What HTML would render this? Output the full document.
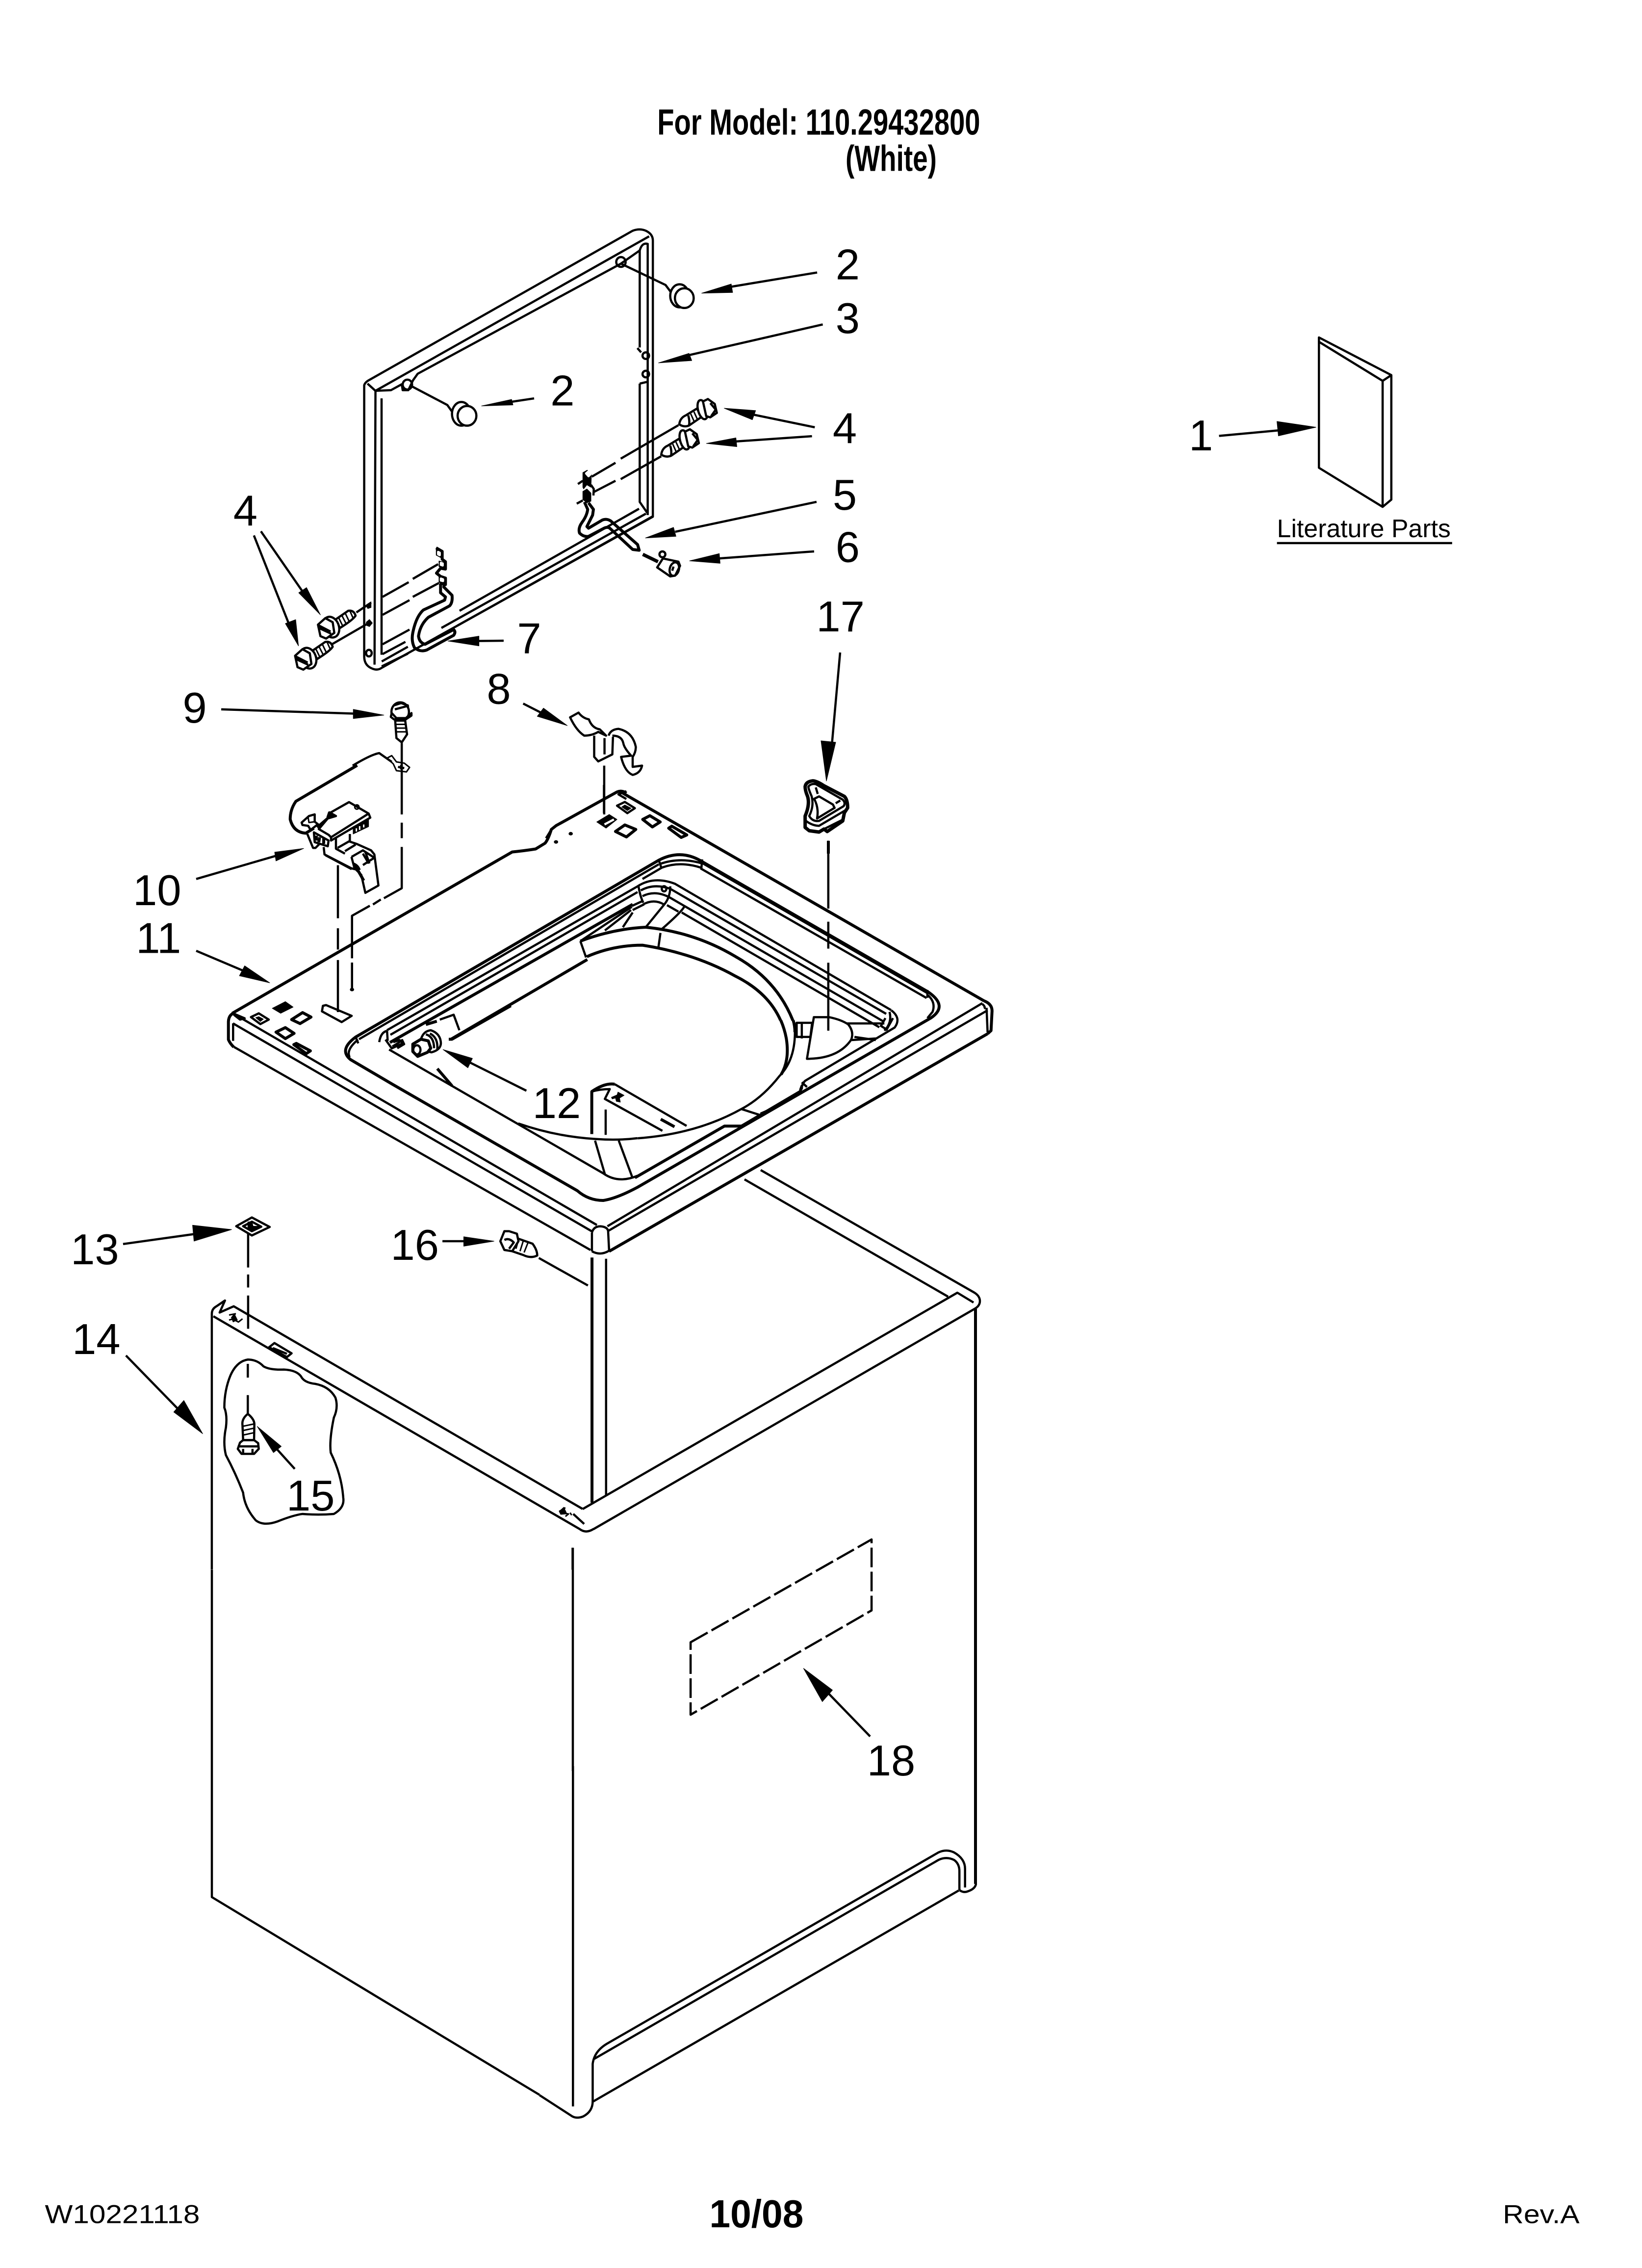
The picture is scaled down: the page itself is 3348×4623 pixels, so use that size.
<!DOCTYPE html>
<html><head><meta charset="utf-8"><style>
html,body{margin:0;padding:0;background:#fff}
svg{display:block}
path,line,polyline,polygon,ellipse,circle{vector-effect:non-scaling-stroke}
.f{fill:#000;stroke:#000;stroke-width:1}
.w{fill:#fff}
.t{stroke-width:3}
.b{stroke-width:6}
.x{stroke-width:7}
text{font-family:"Liberation Sans",sans-serif;fill:#000;stroke:none}
</style></head><body>
<svg xmlns="http://www.w3.org/2000/svg" width="3348" height="4623" viewBox="0 0 3348 4623" fill="none" stroke="#000" stroke-width="4.5" stroke-linejoin="round">

<!-- DOOR FRAME (zoom1 coords) -->
<g transform="translate(400,400) scale(.957,.67)">
<path d="M358 575Q360 565 370 558L930 105Q945 97 958 105Q973 115 973 135L973 975L395 1435Q385 1445 372 1435Q358 1425 358 1400Z"/>
<path d="M365 570L382 592L380 1425M382 592L965 122"/>
<path d="M382 592L415 590L438 572L440 590L452 590L462 560L472 540L905 205L945 165Q950 140 962 145L962 970"/>
<path d="M395 615L395 1395M945 165L945 460M940 462L948 475M945 570L945 930L962 965M945 570L960 565"/>
<ellipse cx="905" cy="200" rx="10" ry="15"/><ellipse cx="450" cy="573" rx="10" ry="15"/>
<ellipse cx="958" cy="485" rx="7" ry="10"/><ellipse cx="958" cy="541" rx="7" ry="10"/>
<ellipse cx="368" cy="1390" rx="6" ry="10"/>
<!-- buttons -->
<path d="M905 205L1000 270L1020 308L1035 270"/>
<ellipse class="w" cx="1030" cy="303" rx="20" ry="35"/><ellipse class="w" cx="1040" cy="310" rx="20" ry="30"/>
<path d="M455 575L535 635L555 675L570 632"/>
<ellipse class="w" cx="565" cy="662" rx="20" ry="36"/><ellipse class="w" cx="577" cy="668" rx="20" ry="30"/>
<!-- arrows -->
<path d="M1323 232L1120 280"/><path class="f" d="M1077 295L1140 267L1143 293Z"/>
<path d="M1335 390L1030 490"/><path class="f" d="M985 507L1050 478L1056 500Z"/>
<path d="M720 615L650 630"/><path class="f" d="M608 638L672 618L675 635Z"/>
<path d="M1318 703L1165 658"/><path class="f" d="M1125 645L1192 652L1185 680Z"/>
<path d="M1312 730L1130 748"/><path class="f" d="M1087 752L1150 735L1152 762Z"/>
<path d="M123 1032L200 1310"/><path class="f" d="M218 1368L190 1300L212 1288Z"/>
</g>
<!-- door rails -->
<path d="M937 1245L1303 1037M900 1280L1317 1047M933 1275L1330 1053"/>

<!-- wire 7, left bolts (3x crop B) -->
<g transform="translate(600,1100) scale(.3333)">
<path d="M540 350L700 260M725 240L880 150M540 460L705 370M725 350L885 265"/>
<path d="M540 640L705 550M540 700L680 625M535 745L695 655M535 775L695 697"/>
<path class="b" d="M868 50L905 72L905 120L925 135L925 180L895 175L870 205L895 225L925 235L925 275L890 265"/>
<path class="f" d="M868 50L905 72L905 115L868 95Z"/><path class="w" stroke="#fff" d="M880 75L890 80L890 95L880 90Z"/>
<path class="f" d="M885 130L925 140L925 180L885 165Z"/><path stroke="#fff" class="w" d="M897 142L908 146L908 158L897 154Z"/>
<path class="f" d="M885 225L925 235L925 270L885 262Z"/><path stroke="#fff" class="w" d="M897 238L910 243L910 253L897 250Z"/>
<path class="b" d="M895 270L895 325L925 350L920 370L790 430Q745 470 725 570Q715 620 735 660Q770 690 810 675L975 585Q990 565 975 550L800 640Q765 630 760 590Q770 520 820 475L950 405Q970 385 965 340L915 290L918 265"/>
<path d="M380 445L470 385"/><path class="f" d="M440 405L470 380L470 415L450 422Z"/>
<path d="M230 640L455 510"/><path class="f" d="M440 505L460 488L478 510L460 532L443 525Z"/>
<g>
<path class="w" d="M250 490L330 435Q365 430 375 465Q360 490 280 540Z"/>
<path class="t" d="M272 478L295 525M292 465L315 510M312 450L335 498M340 435L360 480"/>
<ellipse class="w" cx="225" cy="535" rx="48" ry="65" transform="rotate(-20 225 535)"/>
<path class="w" d="M145 520L190 480L235 505L245 570L195 605L160 590Z"/>
<path d="M150 540L225 575M145 522L222 562"/>
</g>
<g transform="translate(-140,190)">
<path class="w" d="M250 490L330 435Q365 430 375 465Q360 490 280 540Z"/>
<path class="t" d="M272 478L295 525M292 465L315 510M312 450L335 498M340 435L360 480"/>
<ellipse class="w" cx="225" cy="535" rx="48" ry="65" transform="rotate(-20 225 535)"/>
<path class="w" d="M145 520L190 480L235 505L245 570L195 605L160 590Z"/>
<path d="M150 540L225 575M145 522L222 562"/>
</g>
<path d="M-204 -51L70 345"/><path class="f" d="M160 460L75 293L27 325Z"/>
<path d="M1281 618L1100 620"/><path class="f" d="M940 620L1130 590L1130 650Z"/>
</g>

<!-- wire 5, right bolts, nut (3x crop D) -->
<g transform="translate(1100,780) scale(.3333)">
<path d="M320 575L465 490M497 465L850 260M330 670L465 600M497 590L745 450"/>
<path d="M235 620L265 600M228 740L265 720"/>
<path class="f" d="M265 550L292 535L318 560L315 640L290 625L270 650L265 640ZM265 665L290 650L315 675L315 725L290 735L265 715Z"/>
<path class="w" stroke="#fff" d="M285 555L297 545L312 560L300 572Z"/>
<path d="M315 625L332 650L330 690"/>
<path class="b" d="M300 735L330 775L325 810L290 880L300 890L385 840Q410 830 435 845L600 990L610 1025L570 1020L430 890Q415 880 395 890L300 940Q270 945 245 920Q235 890 260 855Q290 815 295 775L275 730"/>
<g>
<path class="w" d="M855 255Q860 215 895 200L985 145L1020 190L915 262Q885 275 855 255Z"/>
<path d="M910 200Q920 235 915 262"/>
<path class="t" d="M925 190L945 235M945 178L965 222M965 165L985 210"/>
<ellipse class="w" cx="998" cy="165" rx="28" ry="60" transform="rotate(-15 998 165)"/>
<path class="w" d="M1000 115L1030 100L1072 130L1085 185L1045 212L1020 205Z"/>
<path d="M1045 125L1078 165L1050 205"/>
</g>
<g transform="translate(-110,185)">
<path class="w" d="M855 255Q860 215 895 200L985 145L1020 190L915 262Q885 275 855 255Z"/>
<path d="M910 200Q920 235 915 262"/>
<path class="t" d="M925 190L945 235M945 178L965 222M965 165L985 210"/>
<ellipse class="w" cx="998" cy="165" rx="28" ry="60" transform="rotate(-15 998 165)"/>
<path class="w" d="M1000 115L1030 100L1072 130L1085 185L1045 212L1020 205Z"/>
<path d="M1045 125L1078 165L1050 205"/>
</g>
<path class="x" d="M632 1050L725 1095"/>
<circle class="w" cx="752" cy="1050" r="18"/>
<path class="w" d="M720 1130L755 1075L850 1095L860 1120L830 1180L800 1185Z"/>
<ellipse cx="825" cy="1140" rx="28" ry="42" transform="rotate(15 825 1140)"/>
<path d="M820 1125L812 1150"/>
<path d="M1695 729L830 912"/><path class="f" d="M648 950L820 885L835 940Z"/>
<path d="M1680 1032L1100 1075"/><path class="f" d="M918 1090L1100 1045L1105 1105Z"/>
</g>

<!-- TOP LEFT PART (zoom2 coords) -->
<g transform="translate(400,1400) scale(.638,.51)">
<path class="b" d="M115 1305L1010 660Q1050 655 1085 648L1115 625Q1125 610 1135 570L1150 555L1345 420Q1360 412 1375 425"/>
<path d="M1118 605Q1128 585 1135 570"/>
<path d="M118 1305L155 1325L140 1330L120 1310"/>
<path class="b" d="M118 1305Q102 1315 103 1345L103 1410Q108 1425 120 1440"/>
<path d="M118 1345L118 1415"/>
<!-- slots -->
<path d="M175 1320L200 1305L232 1330L205 1348Z"/><path class="f" d="M190 1322L200 1318L215 1328L205 1338Z"/>
<path class="b" d="M305 1330L340 1302L367 1320L332 1346Z"/>
<path class="b" d="M255 1380L285 1362L313 1385L285 1406Z"/>
<path class="b" d="M312 1430L320 1425L365 1455L352 1466Z"/>
<path d="M405 1275L415 1272L497 1315L465 1340L402 1297Z"/>
<path class="f" d="M243 1285L285 1258L310 1280L270 1305Z"/>
<path d="M1345 475L1370 460L1402 485L1378 505Z"/><path class="f" d="M1360 480L1370 472L1390 485L1378 495Z"/>
<path class="b" d="M1427 530L1450 515L1483 540L1458 560Z"/>
<path class="b" d="M1340 578L1370 552L1405 570L1375 600Z"/>
<path class="b" d="M1510 565L1520 557L1568 592L1550 602Z"/>
<path class="f" d="M1280 540L1320 510L1345 530L1310 565Z"/><path d="M1305 550L1335 530" stroke="#fff"/>
<circle class="f" cx="1150" cy="620" r="6"/><circle class="f" cx="1197" cy="587" r="6"/><circle class="f" cx="498" cy="1210" r="6"/>
<!-- dashed -->
<path d="M453 713L453 925M453 965L453 1050M453 1092L453 1300"/>
<path d="M657 225L657 510M657 543L657 605M657 640L657 805L600 845M590 850L565 870M555 875L498 915L498 1085M498 1102L498 1210"/>
<path d="M1304 315L1304 510"/>
<!-- wire 10 top -->
<path d="M625 300L585 265Q560 270 500 315"/>
<path class="t" d="M610 285L625 275L640 300L665 305L682 322L672 340L640 335L630 308Z"/>
<path d="M645 320L665 325M655 312L655 330"/>
<!-- screw 9 -->
<ellipse class="w" cx="652" cy="100" rx="28" ry="38"/>
<path d="M630 75L655 65L678 75M635 90L680 75"/>
<path class="w" d="M622 120L632 130L670 130L688 115L688 105L670 125L640 125L625 105Z"/>
<path class="w" d="M636 135L668 135L674 190L657 222L640 205Z"/>
<path class="t" d="M640 150L670 150M640 165L672 165M640 180L672 180"/>
<!-- clip 8 -->
<path d="M1195 122L1222 103Q1235 125 1255 130Q1265 165 1290 170L1310 195L1285 180Q1265 195 1240 195Q1215 175 1195 122Z"/>
<path d="M1272 195L1272 280L1285 298L1330 270L1332 200"/>
<path d="M1305 205L1305 270M1318 195Q1325 170 1350 168Q1395 180 1405 240Q1405 262 1395 280L1395 320L1425 315Q1420 345 1395 352Q1370 340 1358 280L1390 275Q1368 245 1365 225Q1360 195 1330 195"/>
<!-- arrows -->
<path d="M80 90L530 108"/><path class="f" d="M600 113L502 90L502 127Z"/>
<path d="M1045 67L1125 118"/><path class="f" d="M1186 155L1110 85L1090 118Z"/>
<path d="M0 768L270 670"/>
<path d="M0 1055L170 1145"/><path class="f" d="M235 1183L155 1115L138 1155Z"/>
<!-- well left -->
<path d="M815 1408L1250 1090" class="b"/>
<path d="M510 1400L518 1425"/>
<path d="M585 1420Q590 1380 610 1375M610 1375L612 1415M605 1410L625 1445L660 1425L650 1412L630 1420"/>
</g>

<!-- switch 10 (3x crop E) -->
<g transform="translate(560,1560) scale(.3333)">
<path class="b" d="M505 0L130 220Q95 270 95 330Q115 410 190 415L240 385"/>
<path class="w" d="M165 350L210 310L245 300L245 345L265 360L220 395L205 370L170 365Z"/>
<path class="t" d="M205 320L210 350L245 345"/>
<path class="b" d="M260 380L330 320L375 310L335 290L325 320"/>
<path class="w" d="M270 390L330 425L345 440L575 295L455 225L340 290L375 310L325 325Z"/>
<path class="f" d="M335 295L375 310L340 322Z"/>
<path d="M345 440L345 460L585 320L575 295"/>
<circle class="t" cx="503" cy="255" r="13"/>
<path class="w" d="M240 410L330 460L325 495L245 470Z"/>
<path class="b" d="M255 430L255 460M275 440L270 470M300 445L300 480"/>
<path class="f" d="M480 375L575 330L575 375L480 420Z"/>
<path stroke="#fff" class="t" d="M500 385L500 405M520 372L520 395M545 362L545 380"/>
<path d="M200 420L235 505L250 505L275 480"/>
<path d="M300 500L305 545L470 630L490 635L470 560M305 545L470 630"/>
<path class="t" d="M310 552L470 637"/>
<path d="M375 440L375 510L430 540M460 420L460 465"/>
<path d="M385 505L455 465L500 480L590 520L610 545L635 735L555 780L530 670L490 630"/>
<path d="M430 525L495 485M470 560L540 520L610 565M540 610L610 565M480 600Q510 610 520 640M540 540L575 600M555 530L580 600"/>
<path class="b" d="M490 610Q520 660 545 705"/>
<path class="f" d="M178 508L0 531L8 585Z"/>
</g>

<!-- TOP RIGHT PART (zoom3 coords) -->
<g transform="translate(1000,1600) scale(.7015,.638)">
<path class="b" d="M375 20L1435 690"/>
<path d="M395 20L372 30L395 45"/>
<path class="b" d="M1435 690Q1458 700 1458 722L1455 785L1445 795"/>
<path d="M1442 712L1445 790"/>
<path d="M1430 700Q1440 710 1435 715"/>
<path d="M1270 655L1270 680"/>
<path d="M1272 672Q1295 695 1285 725L1270 745"/>
<path d="M1165 720Q1195 745 1175 775L915 945Q905 955 905 970L895 985"/>
<path d="M1160 725Q1168 760 1145 785M1148 745L1135 770L1150 780M1170 745L1150 785"/>
<path class="b" d="M880 752Q885 770 885 790"/>
<path class="b" d="M844 752Q855 780 860 810Q870 880 845 925"/>
<path d="M885 790Q885 880 840 930Q790 1000 730 1035Q600 1115 428 1129"/>
<path d="M728 1035L785 1055M785 1050Q850 1020 895 985M905 950L920 965M900 975L905 960"/>
<path class="w" d="M940 742L985 742Q1020 750 1040 765Q1058 790 1048 815Q1010 875 920 875Z"/>
<path d="M1035 762L1145 762M1058 805L1120 815M1050 815L1120 810"/>
<path d="M890 760L935 760L930 805L890 805ZM905 760L905 810"/>
<path d="M982 178L982 395M982 437L982 523M982 568L982 785"/>
<path d="M330 0L330 90"/>
<path class="b" d="M495 1068L535 1092"/>
<path class="b" d="M420 1255L680 1090L730 1090"/>
<path d="M905 975L720 1095"/>
<path d="M1430 697L340 1410M1445 720L342 1425"/>
<path class="b" d="M1445 795L345 1490"/>
<path d="M295 1490Q320 1505 345 1488M295 1430Q300 1410 320 1410Q340 1412 342 1425M295 1430L295 1490M342 1425L345 1490"/>
</g>

<!-- well top (3x crop C) -->
<g transform="translate(1150,1730) scale(.3333)">
<path d="M-1254 1165L580 95M-1083 1110L450 230M-1062 1138L450 265"/>
<path class="b" d="M-1065 1185L420 340"/>
<path d="M580 70L595 115M845 65L840 125"/>
<path d="M590 92Q710 50 845 90M600 115Q710 75 835 115"/>
<path d="M600 115L480 185"/>
<path d="M850 90L2223 883M835 120L2218 913"/>
<path d="M450 230Q550 165 680 215L2001 987M470 255Q550 210 650 245L1971 1010M480 290Q560 250 650 300L1950 1054M485 340Q550 305 610 340"/>
<path d="M455 225Q465 290 485 330M415 350L480 320M420 375L490 340"/>
<path d="M650 230Q650 300 610 345L500 480M735 355Q720 385 600 490"/>
<path d="M630 345L700 385M720 390L1929 1092"/>
<ellipse cx="612" cy="245" rx="14" ry="16"/>
<path d="M415 355L100 565M410 375L250 500M420 390L360 480"/>
<path class="b" d="M100 565Q300 490 500 480Q800 510 1050 660Q1300 800 1400 1050"/>
<path class="b" d="M140 660Q300 590 480 590Q800 640 1050 780Q1250 880 1325 1050"/>
<path d="M100 565L135 665M590 515L578 600"/>
</g>

<!-- RIM + TOP EDGES (real coords) -->
<path class="b" d="M725 2114L1344 1753Q1389 1730 1431 1756L1891 2021Q1935 2050 1898 2075L1300 2420Q1257 2443 1230 2447Q1200 2447 1177 2427L800 2210L715 2160Q690 2140 725 2114Z"/>
<path d="M730 2119Q705 2140 713 2155"/>
<path d="M477 2134L1204 2548M475 2086L1207 2510M486 2072L1217 2497"/>

<!-- lower-left well, knob 12 (3x crop A) -->
<g transform="translate(800,2050) scale(.3333)">
<path d="M-20 268L1290 1025Q1380 1090 1500 1040"/>
<path d="M770 720Q1000 800 1240 815Q1380 825 1500 810"/>
<path class="b" d="M725 0L365 205L345 205"/>
<path d="M410 150L375 55L290 85"/>
<path class="b" d="M205 115L272 95"/>
<path class="b" d="M275 385L365 490"/>
<path class="w" d="M235 150Q295 170 297 230Q295 270 240 285L215 280L175 205Q190 155 235 150Z"/>
<path d="M205 175Q255 190 255 260M230 170Q280 195 275 265"/>
<path class="w b" d="M175 205L125 235L125 280L155 310L215 285L235 260L220 215Z"/>
<ellipse cx="150" cy="270" rx="22" ry="28"/>
<path d="M0 250L40 225L60 210L72 235L30 260"/>
<path d="M820 520L470 345"/><path class="f" d="M310 268L490 322L462 380Z"/>
<path class="b" d="M1220 785L1220 525Q1300 470 1360 480"/>
<path d="M1360 480L1800 735M1220 525Q1270 510 1330 510L1300 570L1652 765"/>
<path d="M1305 635L1305 790M1240 825L1300 1030M1385 825L1470 1055"/>
<path class="f" d="M1340 560L1375 545L1380 528L1418 548L1390 565L1395 590L1370 585L1365 565L1345 570Z"/>
</g>

<!-- knob 17 (zoom7 coords) -->
<g transform="translate(1580,1540) scale(.3333)">
<path class="x" d="M185 190Q190 160 230 155Q255 155 300 185L425 250Q445 270 445 320L425 350L415 400L320 465L300 450L270 468L210 460L185 440L185 370Q215 300 200 250Q185 215 185 190Z"/>
<path d="M205 190Q220 170 250 175L415 270Q435 290 420 310L270 400Q230 405 210 370Q240 310 225 250Q205 205 205 190Z"/>
<path d="M190 400Q230 430 270 430L440 330M250 195L262 235M240 265L270 250L355 300L365 320L258 385Q270 320 240 265ZM372 292L400 275M300 450L420 390"/>
<path class="b" d="M327 522L327 600"/>
</g>
<path d="M1713 1330L1696 1520"/><path class="f" d="M1685 1592L1674 1510L1704 1513Z"/>

<!-- CABINET (zoom4 coords) -->
<g transform="translate(400,2400) scale(.638,.51)">
<path d="M50 1568L50 545Q50 525 65 515L92 492L75 540L120 515L1235 1325"/>
<path d="M55 555L1225 1405Q1245 1425 1270 1405"/>
<path d="M1205 1345L1240 1385"/>
<path class="t" d="M105 550L125 545L115 565L135 578L148 565M120 565L105 570"/>
<path class="t" d="M1160 1335L1180 1320M1165 1340L1190 1345L1180 1355M1195 1340L1200 1350"/>
<path class="f" d="M1160 1335L1175 1318L1185 1345L1165 1347Z"/>
<path class="f" d="M112 560L122 545L132 570L118 578Z"/>
<path d="M232 680L250 662L305 703L290 718ZM245 682L290 705M235 680L290 718"/>
<path class="b" d="M1265 320L1265 1300"/><path d="M1310 325L1310 1270"/>
<path d="M1203 1480L1203 1568"/>
<path d="M178 160L235 198L178 232L128 195Z"/><path d="M178 177L208 197L178 215L150 195Z"/>
<path class="f" d="M165 178L178 176L182 195L205 195L180 212L165 200Z"/>
<path d="M166 225L166 360M166 388L166 440M166 472L166 605M165 745L165 800M165 870L165 950"/>
<path d="M165 728Q130 735 110 790Q90 850 90 920Q100 950 95 1000Q85 1060 95 1110Q125 1180 150 1260Q155 1320 190 1370Q215 1395 260 1375Q310 1350 340 1345Q390 1350 440 1345Q475 1320 470 1280Q465 1190 430 1100Q425 1050 440 960Q455 920 445 880Q425 835 380 825Q345 820 335 795Q320 770 280 768Q235 770 215 755Q195 728 165 728Z"/>
<path d="M165 945Q145 965 148 990L150 1050L185 1050L186 985Q185 965 165 945Z"/>
<path class="t" d="M148 995L186 985M148 1012L186 1002M149 1030L186 1020"/>
<path d="M140 1060L150 1050L185 1050L198 1062L200 1085L185 1105L145 1105L133 1085Z"/><path d="M133 1075L200 1075M150 1085L150 1105M180 1085L180 1105"/>
<path d="M315 1165L250 1075"/><path class="f" d="M195 995L272 1075L247 1100Z"/>
<path d="M1000 215L1025 225L1030 255L1010 295L985 290L972 255L985 215Z"/><path d="M985 250Q1000 240 1015 260L1000 285"/>
<path d="M1030 245L1075 265Q1090 290 1090 312Q1070 325 1045 310L1010 295"/>
<path class="t" d="M1030 250L1022 285M1045 255L1035 295M1060 262L1048 300"/>
<path d="M1095 322L1252 432"/>
<path d="M787 255L870 255"/><path class="f" d="M952 255L855 237L855 275Z"/>
</g>
<path d="M1188 3076L1952 2635L1985 2655"/>
<path d="M1210 3117L1987 2668Q1998 2662 1998 2652Q1998 2642 1987 2635L1551 2385"/>
<path d="M1518 2404L1933 2643"/>
<path class="b" d="M1989 2668L1989 3840"/>

<!-- kick (zoom5 coords) -->
<g transform="translate(1100,3600) scale(.638,.51)">
<path d="M107 0L107 1360"/>
<path d="M0 1315L105 1400Q120 1410 140 1400Q170 1380 170 1340L170 1190Q175 1140 215 1110L1275 345Q1300 330 1325 345Q1360 370 1360 410L1360 485"/>
<path d="M175 1170L1275 375Q1300 360 1325 375Q1342 390 1342 420L1342 495"/>
<path d="M172 1340L1340 497"/>
<path d="M1342 495Q1355 508 1370 500Q1393 490 1395 470"/>
</g>
<path d="M1168 3155L1168 3610"/>
<path d="M432 3200L432 3867L1100 4270"/>

<!-- overview-scale items -->
<g transform="scale(2.952)">
<g>
<path d="M911 233L961 259L961 345L955 350L911 323ZM911 236L955 263L955 350M955 263L961 259"/>
<path d="M842 301L885 297"/><path class="f" d="M909 295L882 291L883 301Z"/>
<path d="M85 859L135 852"/><path class="f" d="M160 849L133 846L134 857Z"/>
<path d="M87 936L125 975"/><path class="f" d="M140 990L120 975L127 967Z"/>
<path d="M601 1199L570 1167"/><path class="f" d="M555 1152L575 1167L568 1175Z"/>
<path stroke-dasharray="40 9" d="M477 1134L602 1063L602 1112L477 1184Z"/>
<path d="M882 375L1003 375"/>
</g>
<g font-size="30" text-anchor="middle" transform="translate(-.5,-1)">
<text x="586" y="194">2</text><text x="586" y="231">3</text><text x="389" y="281">2</text>
<text x="584" y="307">4</text><text x="584" y="353">5</text><text x="586" y="389">6</text>
<text x="366" y="452">7</text><text x="170" y="364">4</text><text x="581" y="437">17</text>
<text x="345" y="487">8</text><text x="135" y="500">9</text><text x="109" y="626">10</text>
<text x="110" y="659">11</text><text x="385" y="773">12</text><text x="66" y="874">13</text>
<text x="67" y="936">14</text><text x="215" y="1044">15</text><text x="287" y="871">16</text>
<text x="616" y="1227">18</text><text x="830" y="312">1</text>
</g>
<text x="882" y="371" font-size="17.5" textLength="120" lengthAdjust="spacingAndGlyphs">Literature Parts</text>
<text x="454" y="93" font-size="25" font-weight="bold" textLength="223" lengthAdjust="spacingAndGlyphs">For Model: 110.29432800</text>
<text x="584" y="118" font-size="25" font-weight="bold" textLength="63" lengthAdjust="spacingAndGlyphs">(White)</text>
<text x="31" y="1535" font-size="18" textLength="107" lengthAdjust="spacingAndGlyphs">W10221118</text>
<text x="490" y="1538" font-size="27" font-weight="bold" textLength="65" lengthAdjust="spacingAndGlyphs">10/08</text>
<text x="1038" y="1535" font-size="18" textLength="53" lengthAdjust="spacingAndGlyphs">Rev.A</text>
</g>
</svg>
</body></html>
